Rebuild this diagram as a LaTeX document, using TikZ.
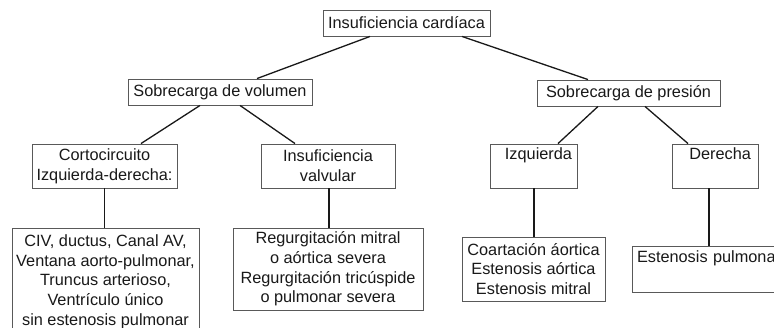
\documentclass[tikz,border=0pt]{standalone}
\usepackage{fontspec}
\setmainfont{Liberation Sans}
\begin{document}
\begin{tikzpicture}[x=1pt,y=-1pt,
  box/.style={draw=black!65, line width=0.9pt, rectangle, inner sep=0pt, align=center,
    text=black!90, font=\fontsize{16.3}{19.7}\selectfont},
  link/.style={draw=black!90, line width=1.3pt}]
\useasboundingbox (0,0) rectangle (774,327);
\clip (0,0) rectangle (774,327);
\fill[white] (0,0) rectangle (774,327);
% level 0
\node[box, minimum width=167pt, minimum height=26pt] (top) at (406.5,23) {Insuficiencia cardíaca};
% level 1
\node[box, minimum width=184pt, minimum height=26pt] (vol) at (220,92) {Sobrecarga de volumen};
\node[box, minimum width=183pt, minimum height=26pt] (pres) at (628.5,93) {Sobrecarga de presión};
% level 2
\node[box, minimum width=145pt, minimum height=44pt] (corto) at (104.5,166) {Cortocircuito\\Izquierda-derecha:};
\node[box, minimum width=134pt, minimum height=44pt] (valv) at (328,166) {Insuficiencia\\valvular};
\node[box, minimum width=87pt, minimum height=44pt, text width=77pt, align=right] (izq) at (533.5,166) {Izquierda\\\strut};
\node[box, minimum width=86pt, minimum height=44pt, text width=72pt, align=right] (der) at (715,166) {Derecha\\\strut};
% level 3
\node[box, minimum width=187pt, minimum height=107pt] (civ) at (105.5,281.5) {CIV, ductus, Canal AV,\\Ventana aorto-pulmonar,\\Truncus arterioso,\\Ventrículo único\\sin estenosis pulmonar};
\node[box, minimum width=190pt, minimum height=82pt] (reg) at (328,269) {Regurgitación mitral\\o aórtica severa\\Regurgitación tricúspide\\o pulmonar severa};
\node[box, minimum width=143pt, minimum height=64pt] (coar) at (533.5,269) {Coartación áortica\\Estenosis aórtica\\Estenosis mitral};
\node[box, minimum width=170pt, minimum height=46pt, text width=160pt, align=left] (est) at (717,269) {Estenosis pulmonar\\\strut};
% connectors
\draw[link] ([xshift=-36.5pt]top.south) -- ([xshift=37pt]vol.north);
\draw[link] ([xshift=55.5pt]top.south) -- ([xshift=-40.5pt]pres.north);
\draw[link] ([xshift=-20pt]vol.south) -- ([xshift=36.5pt]corto.north);
\draw[link] ([xshift=20pt]vol.south) -- ([xshift=-33pt]valv.north);
\draw[link] ([xshift=-30.5pt]pres.south) -- ([xshift=24.5pt]izq.north);
\draw[link] ([xshift=16.5pt]pres.south) -- ([xshift=-27pt]der.north);
\draw[link] (corto.south) -- (corto.south |- civ.north);
\draw[link] ([xshift=1pt]valv.south) -- ([xshift=1pt]valv.south |- reg.north);
\draw[link] ([xshift=0.5pt]izq.south) -- ([xshift=0.5pt]izq.south |- coar.north);
\draw[link] ([xshift=-6pt]der.south) -- ([xshift=-6pt]der.south |- est.north);
\end{tikzpicture}
\end{document}
